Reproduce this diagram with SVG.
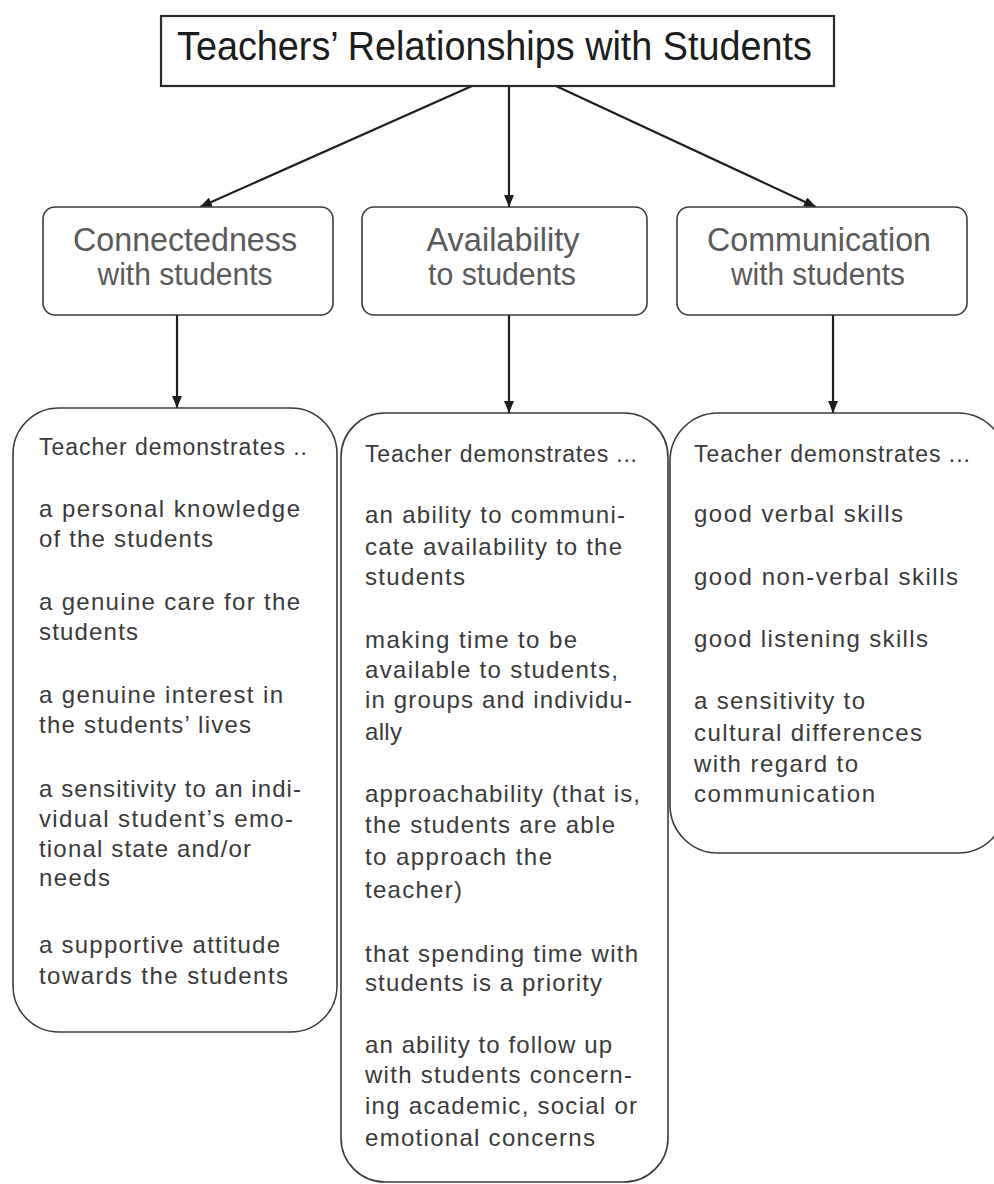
<svg xmlns="http://www.w3.org/2000/svg" width="994" height="1184" viewBox="0 0 994 1184">
<defs>
<marker id="ah" markerUnits="userSpaceOnUse" markerWidth="12" markerHeight="10" refX="12" refY="5" orient="auto">
<path d="M0,0 L12,5 L0,10 z" fill="#1e1e1e"/>
</marker>
<style>
.title{font-family:"Liberation Sans",Arial,sans-serif;font-size:40px;fill:#1c1c1c}
.cat{font-family:"Liberation Sans",Arial,sans-serif;fill:#5a5a5a;text-anchor:middle}
.c1{font-size:33px}
.c2{font-size:31px}
.hd{font-family:"Liberation Sans",Arial,sans-serif;font-size:23px;fill:#3a3a3a}
.it{font-family:"Liberation Sans",Arial,sans-serif;font-size:24px;fill:#3a3a3a}
.box{fill:#fff;stroke:#3a3a3a;stroke-width:1.6}
.tbox{fill:#fff;stroke:#2a2a2a;stroke-width:2.2}
.conn{stroke:#1e1e1e;stroke-width:2.2;fill:none;marker-end:url(#ah)}
</style>
</defs>
<rect width="994" height="1184" fill="#fff"/>

<g id="connectors">
<line class="conn" x1="472" y1="86" x2="200" y2="207"/>
<line class="conn" x1="509" y1="86" x2="509" y2="207"/>
<line class="conn" x1="556" y1="86" x2="816" y2="207"/>
<line class="conn" x1="177" y1="315" x2="177" y2="408"/>
<line class="conn" x1="509" y1="315" x2="509" y2="413"/>
<line class="conn" x1="833" y1="315" x2="833" y2="413"/>
</g>

<g id="title">
<rect class="tbox" x="161" y="16" width="673" height="70"/>
<text class="title" x="177" y="60" textLength="635" lengthAdjust="spacingAndGlyphs">Teachers’ Relationships with Students</text>
</g>

<g id="connectedness">
<rect class="box" x="43" y="207" width="290" height="108" rx="12"/>
<text class="cat c1" x="185" y="251" textLength="224" lengthAdjust="spacingAndGlyphs">Connectedness</text>
<text class="cat c2" x="185" y="285" textLength="175" lengthAdjust="spacingAndGlyphs">with students</text>
</g>

<g id="availability">
<rect class="box" x="362" y="207" width="285" height="108" rx="12"/>
<text class="cat c1" x="503" y="251" textLength="153" lengthAdjust="spacingAndGlyphs">Availability</text>
<text class="cat c2" x="502" y="285" textLength="148" lengthAdjust="spacingAndGlyphs">to students</text>
</g>

<g id="communication">
<rect class="box" x="677" y="207" width="290" height="108" rx="12"/>
<text class="cat c1" x="819" y="251" textLength="224" lengthAdjust="spacingAndGlyphs">Communication</text>
<text class="cat c2" x="818" y="285" textLength="174" lengthAdjust="spacingAndGlyphs">with students</text>
</g>

<g id="connectedness-details">
<rect class="box" x="13" y="408" width="324" height="624" rx="46"/>
<text class="hd" x="39" y="455" textLength="268">Teacher demonstrates ..</text>
<text class="it" x="39" y="517" textLength="261">a personal knowledge</text>
<text class="it" x="39" y="547" textLength="174">of the students</text>
<text class="it" x="39" y="610" textLength="261">a genuine care for the</text>
<text class="it" x="39" y="640" textLength="99">students</text>
<text class="it" x="39" y="703" textLength="244">a genuine interest in</text>
<text class="it" x="39" y="733" textLength="212">the students’ lives</text>
<text class="it" x="39" y="797" textLength="262">a sensitivity to an indi-</text>
<text class="it" x="39" y="827" textLength="254">vidual student’s emo-</text>
<text class="it" x="39" y="857" textLength="212">tional state and/or</text>
<text class="it" x="39" y="886" textLength="71">needs</text>
<text class="it" x="39" y="953" textLength="241">a supportive attitude</text>
<text class="it" x="39" y="984" textLength="249">towards the students</text>
</g>

<g id="availability-details">
<rect class="box" x="341" y="413" width="327" height="769" rx="44"/>
<text class="hd" x="365" y="462" textLength="272">Teacher demonstrates ...</text>
<text class="it" x="365" y="523" textLength="260">an ability to communi-</text>
<text class="it" x="365" y="555" textLength="257">cate availability to the</text>
<text class="it" x="365" y="585" textLength="100">students</text>
<text class="it" x="365" y="648" textLength="212">making time to be</text>
<text class="it" x="365" y="678" textLength="253">available to students,</text>
<text class="it" x="365" y="708" textLength="267">in groups and individu-</text>
<text class="it" x="365" y="740" textLength="37">ally</text>
<text class="it" x="365" y="802" textLength="275">approachability (that is,</text>
<text class="it" x="365" y="833" textLength="250">the students are able</text>
<text class="it" x="365" y="865" textLength="187">to approach the</text>
<text class="it" x="365" y="898" textLength="97">teacher)</text>
<text class="it" x="365" y="962" textLength="273">that spending time with</text>
<text class="it" x="365" y="991" textLength="237">students is a priority</text>
<text class="it" x="365" y="1053" textLength="247">an ability to follow up</text>
<text class="it" x="365" y="1083" textLength="267">with students concern-</text>
<text class="it" x="365" y="1114" textLength="272">ing academic, social or</text>
<text class="it" x="365" y="1146" textLength="230">emotional concerns</text>
</g>

<g id="communication-details">
<rect class="box" x="670" y="413" width="336" height="440" rx="48"/>
<text class="hd" x="694" y="462" textLength="276">Teacher demonstrates ...</text>
<text class="it" x="694" y="522" textLength="209">good verbal skills</text>
<text class="it" x="694" y="585" textLength="264">good non-verbal skills</text>
<text class="it" x="694" y="647" textLength="234">good listening skills</text>
<text class="it" x="694" y="709" textLength="171">a sensitivity to</text>
<text class="it" x="694" y="741" textLength="228">cultural differences</text>
<text class="it" x="694" y="772" textLength="164">with regard to</text>
<text class="it" x="694" y="802" textLength="181">communication</text>
</g>
</svg>
